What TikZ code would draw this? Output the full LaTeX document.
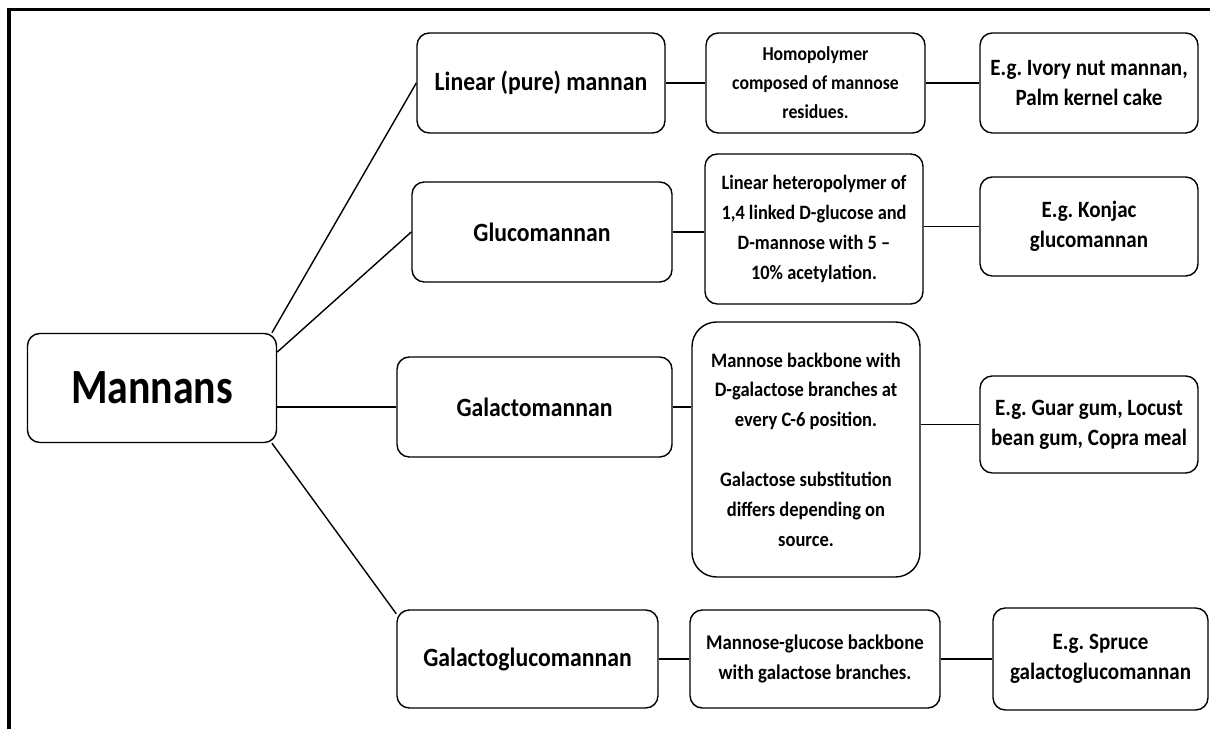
\documentclass[tikz,border=0pt]{standalone}
\usepackage{fontspec}
\setmainfont{Carlito}[FakeStretch=0.9]
\newfontfamily\rootfont{Carlito}[FakeStretch=0.85]

\tikzset{
	headbox/.style={draw, line width=0.8pt, rounded corners=7pt, align=center, inner sep=0pt,
		font=\fontsize{15}{17}\selectfont\bfseries},
	infobox/.style={draw, line width=0.8pt, rounded corners=7pt, align=center, inner sep=0pt,
		font=\fontsize{13.3}{17}\selectfont\bfseries},
	link/.style={line width=0.8pt}
}

\begin{document}
\frenchspacing
\begin{tikzpicture}
		\useasboundingbox (0,0) rectangle (24.2,14.58);
		\draw[line width=2.2pt] (0.18,0) -- (0.18,14.39) -- (24.2,14.39);
		% root
		\node[headbox, minimum width=4.98cm, minimum height=2.18cm,
			font=\rootfont\fontsize{28}{32}\selectfont\bfseries] (man) at (3.04,6.82) {Mannans};
		% second column
		\node[headbox, minimum width=4.96cm, minimum height=2cm] (lin) at (10.82,12.92) {Linear (pure) mannan};
		\node[headbox, minimum width=5.2cm, minimum height=2cm] (glu) at (10.84,9.94) {Glucomannan};
		\node[headbox, minimum width=5.5cm, minimum height=2cm] (gal) at (10.69,6.44) {Galactomannan};
		\node[headbox, minimum width=5.22cm, minimum height=1.96cm] (gg) at (10.55,1.4) {Galactoglucomannan};
		% third column
		\node[infobox, minimum width=4.38cm, minimum height=2cm,
			font=\fontsize{11.2}{16.5}\selectfont\bfseries] (homo) at (16.31,12.92)
			{Homopolymer\\composed of mannose\\residues.};
		\node[infobox, minimum width=4.36cm, minimum height=3cm,
			font=\fontsize{11.6}{17}\selectfont\bfseries] (het) at (16.28,10.0)
			{Linear heteropolymer of\\1,4 linked D-glucose and\\D-mannose with 5 –\\10\% acetylation.};
		\node[infobox, rounded corners=14pt, minimum width=4.56cm, minimum height=5.1cm,
			font=\fontsize{11.7}{17}\selectfont\bfseries] (back) at (16.12,5.59)
			{Mannose backbone with\\D-galactose branches at\\every C-6 position.\\[17pt]Galactose substitution\\differs depending on\\source.};
		\node[infobox, minimum width=5cm, minimum height=1.96cm,
			font=\fontsize{11.9}{17}\selectfont\bfseries] (mg) at (16.3,1.4)
			{Mannose-glucose backbone\\with galactose branches.};
		% examples
		\node[infobox, minimum width=4.36cm, minimum height=2cm] (ivory) at (21.78,12.92)
			{E.g. Ivory nut mannan,\\Palm kernel cake};
		\node[infobox, minimum width=4.36cm, minimum height=1.98cm] (konjac) at (21.78,10.05)
			{E.g. Konjac\\glucomannan};
		\node[infobox, minimum width=4.36cm, minimum height=1.94cm] (guar) at (21.78,6.09)
			{E.g. Guar gum, Locust\\bean gum, Copra meal};
		\node[infobox, minimum width=4.3cm, minimum height=2.04cm] (spruce) at (22.01,1.4)
			{E.g. Spruce\\galactoglucomannan};
		% connectors
		\draw[link] ([xshift=-3pt]man.north east) -- (lin.west);
		\draw[link] (man.16) -- (glu.west);
		\draw[link] (man.east |- gal.west) -- (gal.west);
		\draw[link] ([xshift=-3pt]man.south east) -- (gg.161);
		\draw[link] (lin.east) -- (homo.west);
		\draw[link] (homo.east) -- (ivory.west);
		\draw[link] (glu.east) -- (glu.east -| het.west);
		\draw[link] (konjac.west -| het.east) -- (konjac.west);
		\draw[link] (gal.east) -- (gal.east -| back.west);
		\draw[link] (guar.west -| back.east) -- (guar.west);
		\draw[link] (gg.east) -- (mg.west);
		\draw[link] (mg.east) -- (spruce.west);
	\end{tikzpicture}
\end{document}
